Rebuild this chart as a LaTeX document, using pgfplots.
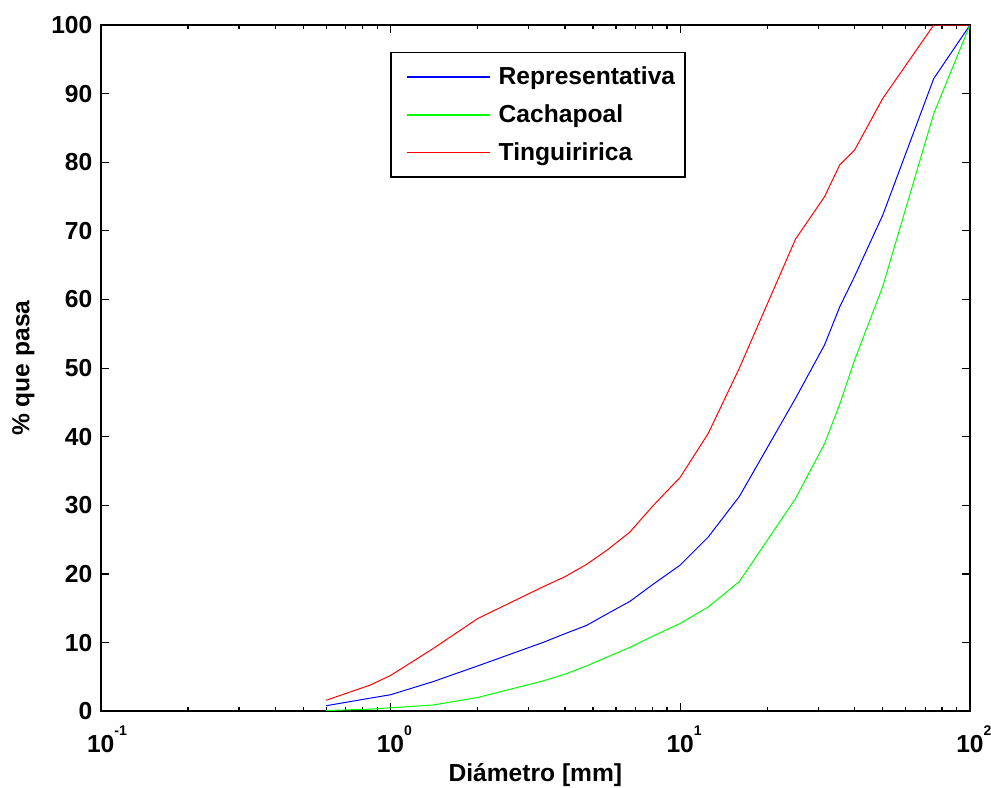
\documentclass[border=0pt]{standalone}
\usepackage{pgfplots}
\pgfplotsset{compat=1.18}
\usepackage{fontspec}
\setmainfont{Liberation Sans}
\definecolor{mblue}{RGB}{0,0,255}
\definecolor{mgreen}{RGB}{0,255,0}
\definecolor{mred}{RGB}{255,0,0}
% exponent drawn to the right of "10" so that "10" sits centred on the tick
\newcommand{\ex}[1]{\rlap{\raisebox{8.5pt}{\fontsize{7}{8}\selectfont #1}}}
\begin{document}
\begin{tikzpicture}[font=\fontsize{12.3}{14}\selectfont\bfseries]
\begin{axis}[
    name=ax,
    scale only axis,
    width=434.5pt, height=343pt,
    xmode=log,
    xmin=0.1, xmax=100,
    ymin=0, ymax=100,
    xtick={0.1,1,10,100},
    xticklabels={10\ex{-1},10\ex{0},10\ex{1},10\ex{2}},
    ytick={0,10,20,30,40,50,60,70,80,90,100},
    yticklabels={0,10,20,30,40,50,60,70,80,90,100},
    xticklabel style={inner sep=0pt, yshift=-7pt},
    yticklabel style={inner sep=0pt, xshift=-4pt},
    tick align=inside,
    major tick length=4pt, minor tick length=2pt,
    every tick/.style={black, line width=0.6pt},
    axis line style={black, line width=0.9pt},
    xlabel={Diámetro [mm]},
    ylabel={\% que pasa},
    xlabel style={at={(axis description cs:0.5,-0.0758)}, anchor=north, inner sep=0pt},
    ylabel style={at={(axis description cs:-0.1021,0.5)}, anchor=north, inner sep=0pt},
    legend style={at={(axis description cs:0.333,0.961)}, anchor=north west,
        draw=black, line width=0.8pt, inner xsep=3pt, inner ysep=5pt,
        row sep=4.5pt, cells={anchor=west},
        /tikz/every odd column/.append style={column sep=2pt}},
    legend image code/.code={
        \path[draw=none] (-5pt,0pt) -- (0pt,0pt);
        \draw[#1, line width=0.7pt] (0pt,0pt) -- (41.5pt,0pt);},
    every axis plot/.append style={line width=0.5pt, mark=none},
]
% Representativa
\addplot[color=mblue] coordinates {
    (0.6,0.8) (0.85,1.9) (1,2.4) (1.4,4.3) (2,6.6) (3.35,10.0) (4,11.3)
    (4.75,12.5) (5.6,14.2) (6.7,16.0) (8,18.4) (10,21.3) (12.5,25.4)
    (16,31.3) (25,45.6) (31.5,53.4) (35.5,58.9) (40,63.4) (50,72.3)
    (75,92.2) (100,100)
};
% Cachapoal
\addplot[color=mgreen] coordinates {
    (0.6,0.1) (0.85,0.3) (1,0.5) (1.4,0.9) (2,2.0) (3.35,4.4) (4,5.4)
    (4.75,6.6) (5.6,7.9) (6.7,9.3) (8,10.9) (10,12.8) (12.5,15.2)
    (16,18.9) (25,31.0) (31.5,39.0) (35.5,44.7) (40,51.2) (50,61.9)
    (75,87.1) (100,100)
};
% Tinguiririca
\addplot[color=mred] coordinates {
    (0.6,1.6) (0.85,3.8) (1,5.2) (1.4,9.1) (2,13.5) (3.35,18.1) (4,19.6)
    (4.75,21.4) (5.6,23.5) (6.7,26.1) (8,29.8) (10,34.1) (12.5,40.5)
    (16,50.0) (25,68.8) (31.5,75.0) (35.5,79.6) (40,81.8) (50,89.3)
    (75,100) (100,100)
};
\legend{Representativa,Cachapoal,Tinguiririca}
\end{axis}
\pgfresetboundingbox
\path ([shift={(-50.35pt,-38pt)}]ax.south west) rectangle ([shift={(10.5pt,12.5pt)}]ax.north east);
\end{tikzpicture}
\end{document}
